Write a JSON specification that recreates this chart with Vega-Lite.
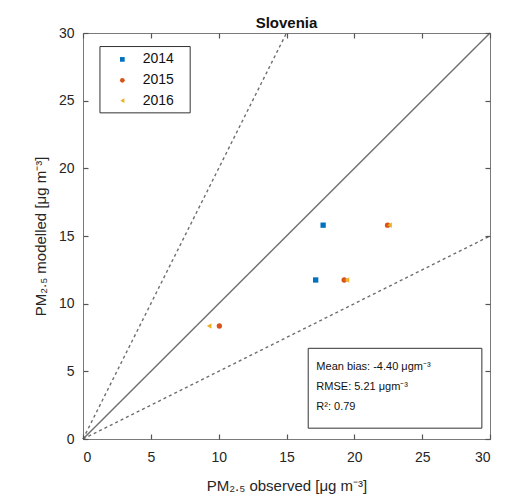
{
  "$schema": "https://vega.github.io/schema/vega-lite/v6.json",
  "width": 407,
  "height": 406,
  "autosize": "none",
  "padding": {"left": 83, "top": 33, "right": 17, "bottom": 60},
  "background": "white",
  "config": {
    "font": "Liberation Sans",
    "view": {"stroke": "#7a7a7a", "strokeWidth": 1},
    "axis": {"grid": false, "domain": false, "zindex": 1, "labelColor": "#262626", "titleColor": "#262626", "labelFontSize": 14, "titleFontSize": 15, "titleFontWeight": "normal"}
  },
  "title": {"text": "Slovenia", "fontSize": 15, "fontWeight": "bold", "color": "#111", "offset": -5},
  "layer": [
    {
      "data": {"values": [{"x": 0, "y": 0, "x2": 30, "y2": 30}]},
      "mark": {"type": "rule", "color": "#6e6e6e", "strokeWidth": 1.4},
      "encoding": {
        "x": {"field": "x", "type": "quantitative", "scale": {"domain": [0, 30], "nice": false}, "axis": {"values": [0,5,10,15,20,25,30], "ticks": true, "tickSize": 5, "tickColor": "#555", "tickWidth": 1.2, "tickOpacity": 1, "offset": -5, "zindex": 1, "title": "PM₂.₅ observed [μg m⁻³]", "titlePadding": 14, "labelPadding": 11}},
        "y": {"field": "y", "type": "quantitative", "scale": {"domain": [0, 30], "nice": false}, "axis": {"values": [0,5,10,15,20,25,30], "ticks": true, "tickSize": 5, "tickColor": "#555", "tickWidth": 1.2, "tickOpacity": 1, "offset": -5, "zindex": 1, "title": "PM₂.₅ modelled [μg m⁻³]", "titlePadding": 10, "labelPadding": 9}},
        "x2": {"field": "x2"},
        "y2": {"field": "y2"}
      }
    },
    {
      "data": {"values": [{"x": 0, "y": 0, "x2": 15, "y2": 30}, {"x": 0, "y": 0, "x2": 30, "y2": 15}]},
      "mark": {"type": "rule", "color": "#6e6e6e", "strokeWidth": 1.4, "strokeDash": [3, 3]},
      "encoding": {
        "x": {"field": "x", "type": "quantitative", "axis": {"orient": "top", "values": [0,5,10,15,20,25,30], "ticks": true, "tickSize": 5, "tickColor": "#555", "tickWidth": 1.2, "tickOpacity": 1, "offset": -5, "zindex": 1, "labels": false, "title": null}},
        "y": {"field": "y", "type": "quantitative", "axis": {"orient": "right", "values": [0,5,10,15,20,25,30], "ticks": true, "tickSize": 5, "tickColor": "#555", "tickWidth": 1.2, "tickOpacity": 1, "offset": -5, "zindex": 1, "labels": false, "title": null}},
        "x2": {"field": "x2"},
        "y2": {"field": "y2"}
      }
    },
    {
      "data": {"values": [
        {"obs": 17.7, "mod": 15.8, "year": "2014"},
        {"obs": 17.15, "mod": 11.75, "year": "2014"},
        {"obs": 10.05, "mod": 8.35, "year": "2015"},
        {"obs": 19.25, "mod": 11.75, "year": "2015"},
        {"obs": 22.45, "mod": 15.8, "year": "2015"},
        {"obs": 9.3, "mod": 8.35, "year": "2016"},
        {"obs": 19.45, "mod": 11.75, "year": "2016"},
        {"obs": 22.6, "mod": 15.8, "year": "2016"}
      ]},
      "mark": {"type": "point", "filled": true, "size": 28, "opacity": 1},
      "encoding": {
        "x": {"field": "obs", "type": "quantitative", "axis": null},
        "y": {"field": "mod", "type": "quantitative", "axis": null},
        "color": {"field": "year", "type": "nominal", "scale": {"domain": ["2014", "2015", "2016"], "range": ["#0072BD", "#D95319", "#EDB120"]}, "legend": null},
        "shape": {"field": "year", "type": "nominal", "scale": {"domain": ["2014", "2015", "2016"], "range": ["square", "circle", "triangle-left"]}, "legend": null}
      }
    },
    {
      "data": {"values": [{"x": 1.25, "x2": 7.9, "y": 24.1, "y2": 29.0}, {"x": 16.6, "x2": 29.4, "y": 0.8, "y2": 6.7}]},
      "mark": {"type": "rect", "fill": "white", "stroke": "#333", "strokeWidth": 1},
      "encoding": {
        "x": {"field": "x", "type": "quantitative", "axis": null},
        "x2": {"field": "x2"},
        "y": {"field": "y", "type": "quantitative", "axis": null},
        "y2": {"field": "y2"}
      }
    },
    {
      "data": {"values": [
        {"x": 2.9, "y": 28.05, "year": "2014"},
        {"x": 2.9, "y": 26.5, "year": "2015"},
        {"x": 2.9, "y": 25.0, "year": "2016"}
      ]},
      "mark": {"type": "point", "filled": true, "size": 22, "opacity": 1},
      "encoding": {
        "x": {"field": "x", "type": "quantitative", "axis": null},
        "y": {"field": "y", "type": "quantitative", "axis": null},
        "color": {"field": "year", "type": "nominal", "legend": null},
        "shape": {"field": "year", "type": "nominal", "legend": null}
      }
    },
    {
      "data": {"values": [
        {"x": 4.4, "y": 28.05, "label": "2014"},
        {"x": 4.4, "y": 26.5, "label": "2015"},
        {"x": 4.4, "y": 25.0, "label": "2016"}
      ]},
      "mark": {"type": "text", "align": "left", "baseline": "middle", "fontSize": 14, "color": "#111"},
      "encoding": {
        "x": {"field": "x", "type": "quantitative", "axis": null},
        "y": {"field": "y", "type": "quantitative", "axis": null},
        "text": {"field": "label"}
      }
    },
    {
      "data": {"values": [
        {"x": 17.2, "y": 5.35, "label": "Mean bias: -4.40 μgm⁻³"},
        {"x": 17.2, "y": 3.87, "label": "RMSE: 5.21 μgm⁻³"},
        {"x": 17.2, "y": 2.4, "label": "R²: 0.79"}
      ]},
      "mark": {"type": "text", "align": "left", "baseline": "middle", "fontSize": 11, "color": "#111"},
      "encoding": {
        "x": {"field": "x", "type": "quantitative", "axis": null},
        "y": {"field": "y", "type": "quantitative", "axis": null},
        "text": {"field": "label"}
      }
    }
  ],
  "resolve": {"axis": {"x": "independent", "y": "independent"}}
}
